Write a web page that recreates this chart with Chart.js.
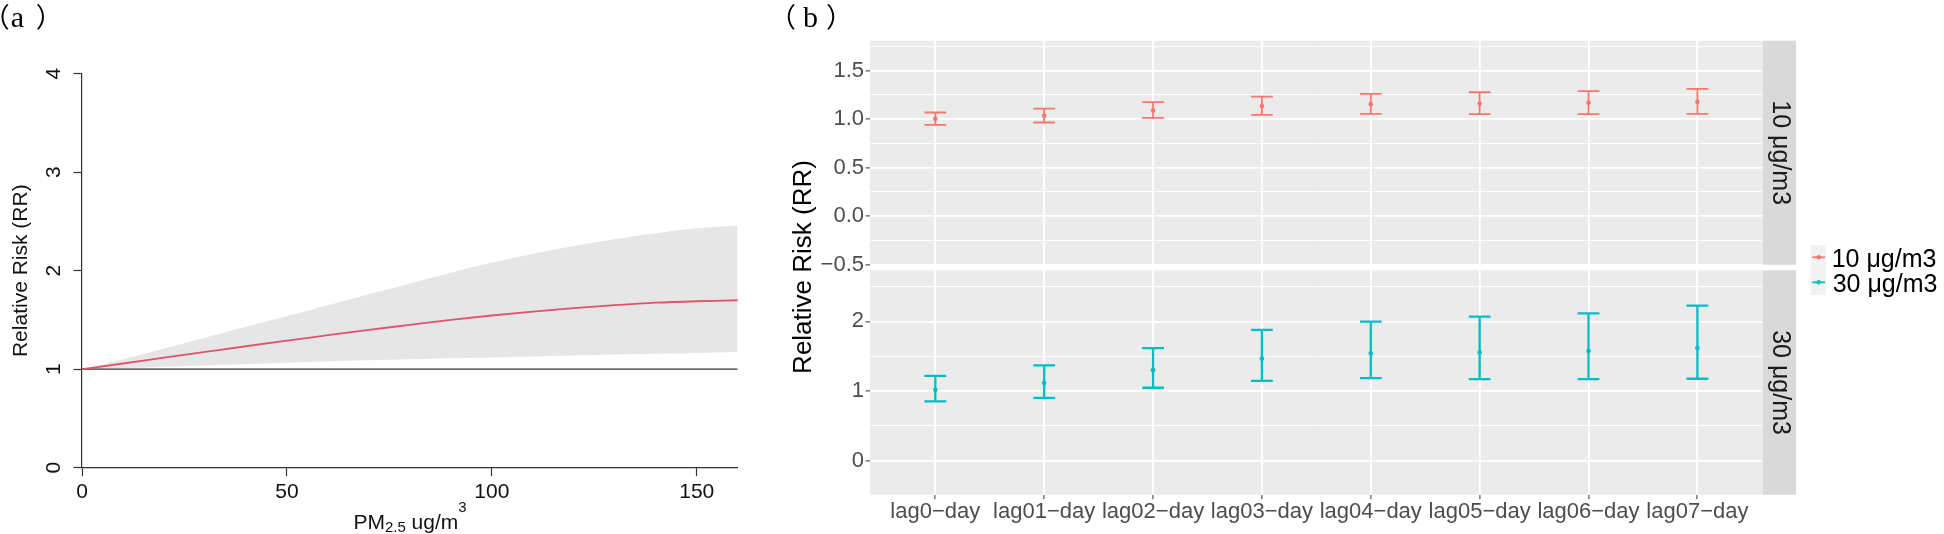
<!DOCTYPE html>
<html>
<head>
<meta charset="utf-8">
<script src="https://cdn.jsdelivr.net/npm/chart.js@4.4.1/dist/chart.umd.min.js"></script>
<style>
  html, body { margin: 0; padding: 0; background: #fff; }
  #wrap { position: relative; width: 1944px; height: 534px; overflow: hidden; }
  #wrap canvas { position: absolute; left: 0; top: 0; }
</style>
</head>
<body>
<div id="wrap">
  <canvas id="rrCurve" width="1944" height="534"></canvas>
  <canvas id="lagTop" width="1944" height="534"></canvas>
  <canvas id="lagBottom" width="1944" height="534"></canvas>
</div>
<script>
// (a) exposure-response curve
const pmLevels = [0, 10, 20, 30, 40, 50, 60, 70, 80, 90, 100, 110, 120, 130, 140, 150, 160];
const rrFit    = [1.00, 1.058, 1.117, 1.175, 1.233, 1.29, 1.345, 1.40, 1.45, 1.50, 1.545, 1.585, 1.62, 1.65, 1.675, 1.69, 1.70];
const rrUpper  = [1.00, 1.10, 1.21, 1.32, 1.43, 1.54, 1.65, 1.76, 1.87, 1.98, 2.08, 2.17, 2.25, 2.32, 2.38, 2.43, 2.46];
const rrLower  = [1.00, 1.012, 1.025, 1.038, 1.05, 1.065, 1.08, 1.09, 1.10, 1.11, 1.12, 1.13, 1.14, 1.15, 1.157, 1.165, 1.175];
const refX = [0, 160];
const refY = [1, 1];
const pmTicks = [0, 50, 100, 150];
const rrTicks = [0, 1, 2, 3, 4];

// (b) lag effects, per 10 and 30 ug/m3
const lagLabels = ['lag0\u2212day', 'lag01\u2212day', 'lag02\u2212day', 'lag03\u2212day',
                   'lag04\u2212day', 'lag05\u2212day', 'lag06\u2212day', 'lag07\u2212day'];
const doseLabels = ['10 \u03bcg/m3', '30 \u03bcg/m3'];
const est10  = [1.003, 1.034, 1.089, 1.134, 1.154, 1.160, 1.168, 1.178];
const low10  = [0.941, 0.965, 1.013, 1.044, 1.054, 1.051, 1.051, 1.054];
const high10 = [1.068, 1.109, 1.175, 1.232, 1.260, 1.277, 1.288, 1.311];
const est30  = [1.019, 1.115, 1.301, 1.468, 1.544, 1.558, 1.577, 1.620];
const low30  = [0.852, 0.904, 1.048, 1.148, 1.186, 1.172, 1.172, 1.177];
const high30 = [1.219, 1.368, 1.616, 1.878, 1.998, 2.069, 2.117, 2.227];
const topMajor = [-0.5, 0, 0.5, 1, 1.5];
const topMinor = [-0.25, 0.25, 0.75, 1.25, 1.75];
const bottomMajor = [0, 1, 2];
const bottomMinor = [0.5, 1.5, 2.5];

const FONT = "'Liberation Sans', Arial, sans-serif";
const doseColors = ['#F8766D', '#00BFC4'];
const CAP = 0.1;

const xy = (xs, ys) => xs.map((x, i) => ({x: x, y: ys[i]}));

// draw a glyph so that its ink starts at inkLeft
function inkText(ctx, text, inkLeft, baseline) {
  const m = ctx.measureText(text);
  ctx.fillText(text, inkLeft + m.actualBoundingBoxLeft, baseline);
}

function panelTag(ctx, letter, x0, xl, xr, baseline) {
  ctx.save();
  ctx.fillStyle = '#000';
  ctx.textAlign = 'left';
  ctx.textBaseline = 'alphabetic';
  ctx.font = "27px 'Noto Sans CJK SC'";
  inkText(ctx, '\uff08', x0, baseline);
  inkText(ctx, '\uff09', xr, baseline);
  ctx.font = "30px 'Liberation Serif', serif";
  inkText(ctx, letter, xl, baseline);
  ctx.restore();
}

const blank = {
  id: 'blank',
  beforeDraw(chart, args, opts) {
    if (!opts.color) return;
    const {ctx, chartArea: a} = chart;
    ctx.save();
    ctx.fillStyle = opts.color;
    ctx.fillRect(a.left, a.top, a.right - a.left, a.bottom - a.top);
    ctx.restore();
  }
};

const strip = {
  id: 'strip',
  afterDraw(chart, args, opts) {
    if (!opts.text) return;
    const {ctx, chartArea: a} = chart;
    ctx.save();
    ctx.fillStyle = '#D9D9D9';
    ctx.fillRect(a.right, a.top, 33.3, a.bottom - a.top);
    ctx.translate(a.right + 16.7, (a.top + a.bottom) / 2);
    ctx.rotate(Math.PI / 2);
    ctx.fillStyle = '#1A1A1A';
    ctx.font = '25px ' + FONT;
    ctx.textAlign = 'center';
    ctx.textBaseline = 'middle';
    ctx.fillText(opts.text, 0, 0);
    ctx.restore();
  }
};

const curveText = {
  id: 'curveText',
  afterDraw(chart) {
    const ctx = chart.ctx;
    panelTag(ctx, 'a', 0.7, 11.7, 36.7, 27);
    // x title with sub/superscript
    const parts = [['PM', 21, 0], ['2.5', 15, 3.5], [' ug/m', 21, 0], ['3', 15, -17]];
    ctx.save();
    ctx.fillStyle = '#111';
    ctx.textBaseline = 'alphabetic';
    ctx.textAlign = 'left';
    let w = 0;
    parts.forEach(p => { ctx.font = p[1] + 'px ' + FONT; w += ctx.measureText(p[0]).width; });
    let x = 410 - w / 2;
    parts.forEach(p => {
      ctx.font = p[1] + 'px ' + FONT;
      ctx.fillText(p[0], x, 528.5 + p[2]);
      x += ctx.measureText(p[0]).width;
    });
    ctx.restore();
  }
};

const lagText = {
  id: 'lagText',
  afterDraw(chart) {
    const ctx = chart.ctx;
    panelTag(ctx, 'b', 787, 803, 827, 26.7);
    ctx.save();
    // shared y title
    ctx.translate(804, 267);
    ctx.rotate(-Math.PI / 2);
    ctx.fillStyle = '#000';
    ctx.font = '26px ' + FONT;
    ctx.textAlign = 'center';
    ctx.textBaseline = 'middle';
    ctx.fillText('Relative Risk (RR)', 0, 0);
    ctx.restore();
    // legend
    ctx.save();
    ctx.fillStyle = '#F2F2F2';
    ctx.fillRect(1810.7, 245, 15.3, 50);
    doseLabels.forEach((lab, i) => {
      const cy = 257.3 + i * 25;
      ctx.strokeStyle = doseColors[i];
      ctx.fillStyle = doseColors[i];
      ctx.lineWidth = 1.8;
      ctx.beginPath();
      ctx.moveTo(1812.3, cy);
      ctx.lineTo(1825, cy);
      ctx.stroke();
      ctx.beginPath();
      ctx.arc(1818.7, cy, 2.2, 0, Math.PI * 2);
      ctx.fill();
      ctx.fillStyle = '#000';
      ctx.font = '25px ' + FONT;
      ctx.textAlign = 'left';
      ctx.textBaseline = 'alphabetic';
      inkText(ctx, lab, 1832.7, cy + 9.4);
    });
    ctx.restore();
  }
};

const axisLine = { display: true, color: '#333', width: 1.2 };
const tickFont = { family: FONT, size: 21 };
const lagFont = { family: FONT, size: 22 };

new Chart(document.getElementById('rrCurve'), {
  type: 'line',
  data: {
    datasets: [
      { label: 'RR', data: xy(pmLevels, rrFit), borderColor: '#DF536B', borderWidth: 1.8,
        pointRadius: 0, cubicInterpolationMode: 'monotone', fill: false, order: 0 },
      { label: 'ref', data: xy(refX, refY), borderColor: '#333', borderWidth: 1.2,
        pointRadius: 0, fill: false, order: 1 },
      { label: 'upper', data: xy(pmLevels, rrUpper), borderColor: 'rgba(0,0,0,0)', borderWidth: 0,
        backgroundColor: '#E6E6E6', pointRadius: 0, cubicInterpolationMode: 'monotone', fill: '+1', order: 2 },
      { label: 'lower', data: xy(pmLevels, rrLower), borderColor: 'rgba(0,0,0,0)', borderWidth: 0,
        pointRadius: 0, cubicInterpolationMode: 'monotone', fill: false, order: 3 }
    ]
  },
  options: {
    responsive: false,
    animation: false,
    layout: { padding: { top: 73.7, left: 0, right: 1944 - 737.7, bottom: 0 } },
    plugins: { legend: { display: false }, tooltip: { enabled: false } },
    scales: {
      x: {
        type: 'linear', min: 0, max: 160,
        afterBuildTicks: s => { s.ticks = pmTicks.map(v => ({value: v})); },
        afterFit: s => { s.height = 534 - 467.7; },
        grid: { display: true, drawOnChartArea: false, drawTicks: true, tickLength: 8.5, tickColor: '#333', tickWidth: 1.2 },
        border: axisLine,
        ticks: { font: tickFont, color: '#111', padding: 3, maxRotation: 0, autoSkip: false }
      },
      y: {
        min: 0, max: 4,
        afterBuildTicks: s => { s.ticks = rrTicks.map(v => ({value: v})); },
        afterFit: s => { s.width = 82; },
        grid: { display: true, drawOnChartArea: false, drawTicks: true, tickLength: 8.5, tickColor: '#333', tickWidth: 1.2 },
        border: axisLine,
        ticks: { font: tickFont, color: '#111', minRotation: 90, maxRotation: 90, crossAlign: 'center', padding: 13.5, autoSkip: false },
        title: { display: true, text: 'Relative Risk (RR)', font: tickFont, color: '#111', padding: { top: 9, bottom: 0 } }
      }
    }
  },
  plugins: [curveText]
});

function whiskers(low, high) {
  const pts = [];
  low.forEach((lo, i) => {
    const hi = high[i];
    pts.push({x: i - CAP, y: hi}, {x: i + CAP, y: hi}, {x: i, y: null},
             {x: i, y: hi}, {x: i, y: lo}, {x: i, y: null},
             {x: i - CAP, y: lo}, {x: i + CAP, y: lo}, {x: i, y: null});
  });
  return pts;
}

function facet(id, cfg) {
  const isMajor = v => cfg.major.includes(v);
  const yTicks = cfg.major.concat(cfg.minor).sort((a, b) => a - b);
  return new Chart(document.getElementById(id), {
    type: 'scatter',
    data: {
      datasets: [
        { label: cfg.strip, data: cfg.est.map((v, i) => ({x: i, y: v})), backgroundColor: cfg.color,
          borderColor: cfg.color, pointRadius: 2.3, pointBorderWidth: 0, order: 0 },
        { label: cfg.strip + ' CI', data: whiskers(cfg.low, cfg.high), showLine: true, spanGaps: false,
          borderColor: cfg.color, borderWidth: cfg.lineWidth, pointRadius: 0, borderCapStyle: 'butt', order: 1 }
      ]
    },
    options: {
      responsive: false,
      animation: false,
      layout: { padding: { top: cfg.top, left: 780, right: 1944 - 1762.7, bottom: cfg.bottom } },
      plugins: {
        legend: { display: false }, tooltip: { enabled: false },
        blank: { color: '#EBEBEB' },
        strip: { text: cfg.strip }
      },
      scales: {
        x: {
          type: 'linear', min: -0.6, max: 7.6,
          afterBuildTicks: s => { s.ticks = lagLabels.map((_, i) => ({value: i})); },
          afterFit: s => { s.height = cfg.xHeight; },
          grid: { color: '#FFFFFF', lineWidth: 1.8, drawTicks: cfg.showX, tickLength: 4.5, tickColor: '#333', tickWidth: 1 },
          border: { display: false },
          ticks: { display: cfg.showX, callback: v => lagLabels[v], font: lagFont, color: '#4D4D4D',
                   padding: 0, maxRotation: 0, autoSkip: false }
        },
        y: {
          min: cfg.min, max: cfg.max,
          afterBuildTicks: s => { s.ticks = yTicks.map(v => ({value: v})); },
          afterFit: s => { s.width = 90; },
          grid: {
            color: '#FFFFFF',
            lineWidth: c => isMajor(c.tick.value) ? 1.8 : 0.9,
            tickLength: 4.5,
            tickColor: c => isMajor(c.tick.value) ? '#333' : 'rgba(0,0,0,0)',
            tickWidth: 1
          },
          border: { display: false },
          ticks: { callback: v => isMajor(v) ? cfg.fmt(v) : '', font: lagFont, color: '#4D4D4D',
                   padding: 1.5, autoSkip: false }
        }
      }
    },
    plugins: cfg.extra ? [blank, strip, cfg.extra] : [blank, strip]
  });
}

const fmtTop = v => (v < 0 ? '\u2212' : '') + Math.abs(v).toFixed(1);

facet('lagTop', {
  est: est10, low: low10, high: high10, color: doseColors[0], lineWidth: 1.8, strip: doseLabels[0],
  min: -0.5, max: 1.808, major: topMajor, minor: topMinor, fmt: fmtTop,
  top: 40.7, bottom: 534 - 264.7, xHeight: 0, showX: false
});

facet('lagBottom', {
  est: est30, low: low30, high: high30, color: doseColors[1], lineWidth: 2.3, strip: doseLabels[1],
  min: -0.487, max: 2.734, major: bottomMajor, minor: bottomMinor, fmt: v => String(v),
  top: 270.3, bottom: 0, xHeight: 534 - 494.7, showX: true, extra: lagText
});
</script>
</body>
</html>
